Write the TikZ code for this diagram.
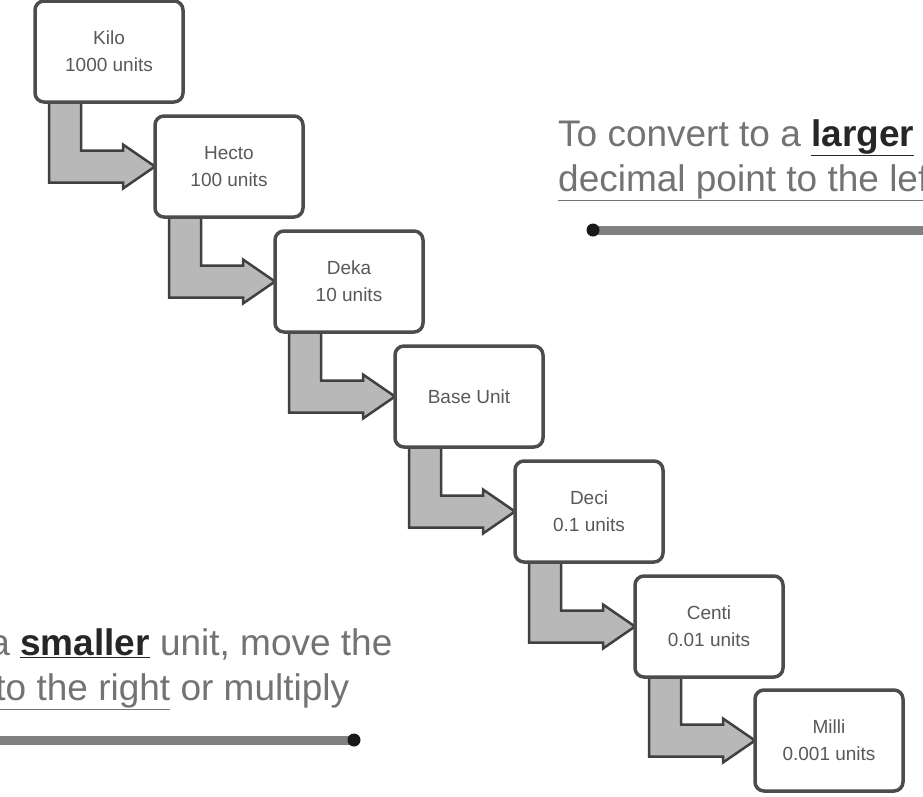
\documentclass[tikz,border=0pt]{standalone}
\usepackage{fontspec}
\setmainfont{Liberation Sans}
\usetikzlibrary{calc}
\pgfdeclarelayer{background}
\pgfsetlayers{background,main}
\newcommand\stairconn[2]{%
  \draw[stairarrow] let \p1=(#1.south west), \p2=(#2.west) in
    (\x1+14pt,\y1+6pt) -- (\x1+14pt,\y2-16pt) -- (\x2-32pt,\y2-16pt) --
    (\x2-32pt,\y2-22pt) -- (\x2,\y2) -- (\x2-32pt,\y2+22pt) --
    (\x2-32pt,\y2+16pt) -- (\x1+46pt,\y2+16pt) -- (\x1+46pt,\y1+6pt) -- cycle;}
\begin{document}
\begin{tikzpicture}[x=1pt,y=-1pt,
  unitbox/.style={draw=black!70, line width=3.5pt, fill=white, rounded corners=9pt,
    minimum width=148pt, minimum height=101pt, inner sep=0pt, outer sep=0pt,
    align=center, text=black!65, font=\fontsize{19}{27}\selectfont},
  stairarrow/.style={draw=black!75, fill=black!28, line width=2.5pt, line join=miter},
  note/.style={anchor=base west, inner sep=0pt, text=black!55,
    font=\fontsize{37}{47}\selectfont},
  ruleline/.style={draw=black!50, line width=9pt},
  ruledot/.style={fill=black!90},
]
\useasboundingbox (0,0) rectangle (923,796);
\clip (0,0) rectangle (923,796);

\node[unitbox] (kilo)  at (109,51.5)  {Kilo\\1000 units};
\node[unitbox] (hecto) at (229,166.5) {Hecto\\100 units};
\node[unitbox] (deka)  at (349,281.5) {Deka\\10 units};
\node[unitbox] (base)  at (469,396.5) {Base Unit};
\node[unitbox] (deci)  at (589,511.5) {Deci\\0.1 units};
\node[unitbox] (centi) at (709,626.5) {Centi\\0.01 units};
\node[unitbox] (milli) at (829,740.5) {Milli\\0.001 units};

\begin{pgfonlayer}{background}
\stairconn{kilo}{hecto}
\stairconn{hecto}{deka}
\stairconn{deka}{base}
\stairconn{base}{deci}
\stairconn{deci}{centi}
\stairconn{centi}{milli}
\end{pgfonlayer}

\node[note] (up1) at (558,146) {To convert to a {\color{black!85}\underline{\textbf{larger}}} unit, move the};
\node[note] (up2) at (558,191) {\underline{decimal point to the left} or divide};
\node[note] (dn1) at (-233,655) {To convert to a {\color{black!85}\underline{\textbf{smaller}}} unit, move the};
\node[note] (dn2) at (-233,700) {\underline{decimal point to the right} or multiply};

\coordinate (l1s) at (593,230);
\coordinate (l1e) at (940,230);
\draw[ruleline] (l1s) -- (l1e);
\fill[ruledot] (l1s) circle[radius=6.5pt];

\coordinate (l2s) at (354,740);
\coordinate (l2e) at (-20,740);
\draw[ruleline] (l2s) -- (l2e);
\fill[ruledot] (l2s) circle[radius=6.5pt];
\end{tikzpicture}
\end{document}
